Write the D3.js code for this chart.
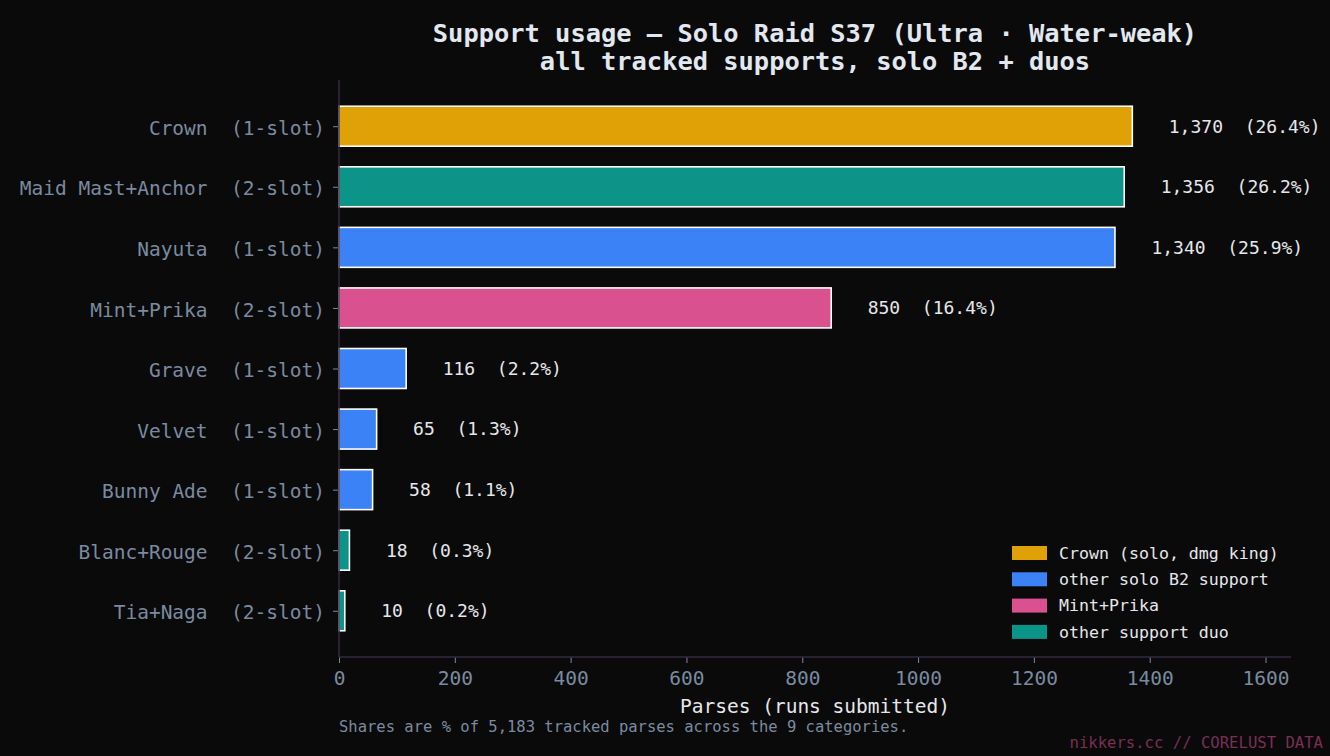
<!DOCTYPE html>
<html><head><meta charset="utf-8">
<script src="https://cdn.jsdelivr.net/npm/d3@7"></script>
<style>
html,body{margin:0;padding:0;background:#0a0a0a;}
text{font-family:"DejaVu Sans Mono",monospace;white-space:pre;}
</style></head>
<body><svg id="c" width="1330" height="756"></svg>
<script>
const names = ["Crown","Maid Mast+Anchor","Nayuta","Mint+Prika","Grave","Velvet","Bunny Ade","Blanc+Rouge","Tia+Naga"];
const slots = ["1-slot","2-slot","1-slot","2-slot","1-slot","1-slot","1-slot","2-slot","2-slot"];
const values = [1370,1356,1340,850,116,65,58,18,10];
const groups = ["crown","duo","solo","mint","solo","solo","solo","duo","duo"];
const groupKeys = ["crown","solo","mint","duo"];
const groupLabels = ["Crown (solo, dmg king)","other solo B2 support","Mint+Prika","other support duo"];
const groupColors = ["#e0a106","#3b82f6","#d9528f","#0d9488"];
const xTicks = [0,200,400,600,800,1000,1200,1400,1600];

const total = d3.sum(values);
const svg = d3.select("#c");
svg.append("rect").attr("width",1330).attr("height",756).attr("fill","#0a0a0a");

const L=339, R=1291, T=80, B=657;
const xMax = d3.max(values)*1.2;
const x = d3.scaleLinear().domain([0,xMax]).range([L,R]);
const bh = 0.66;
const pad = (names.length-1+bh)*0.05;
const y = d3.scaleLinear().domain([-bh/2-pad, names.length-1+bh/2+pad]).range([T,B]);
const color = d3.scaleOrdinal().domain(groupKeys).range(groupColors);

// title
svg.append("text").attr("x",(L+R)/2).attr("y",42).attr("text-anchor","middle")
  .attr("font-size",25.4).attr("font-weight","bold").attr("fill","#e2e8f0")
  .text("Support usage \u2014 Solo Raid S37 (Ultra \u00b7 Water-weak)");
svg.append("text").attr("x",(L+R)/2).attr("y",70).attr("text-anchor","middle")
  .attr("font-size",25.4).attr("font-weight","bold").attr("fill","#e2e8f0")
  .text("all tracked supports, solo B2 + duos");

// bars
const data = names.map((n,i)=>({n,i,v:values[i],g:groups[i],s:slots[i]}));
svg.append("g").selectAll("rect").data(data).join("rect")
  .attr("x",x(0)).attr("y",d=>y(d.i-bh/2))
  .attr("width",d=>x(d.v)-x(0)).attr("height",d=>y(d.i+bh/2)-y(d.i-bh/2))
  .attr("fill",d=>color(d.g)).attr("stroke","#ffffff").attr("stroke-width",1.6);

// value labels
const fmt = d3.format(",");
svg.append("g").selectAll("text").data(data).join("text")
  .attr("x",d=>x(d.v+xMax*0.0383)).attr("y",d=>y(d.i)).attr("dy","0.35em")
  .attr("font-size",18).attr("fill","#e5e7eb")
  .text(d=>`${fmt(d.v)}  (${(d.v/total*100).toFixed(1)}%)`);

// axes
const axisColor="#35283f";
const xAxis = svg.append("g").attr("transform",`translate(0,${B})`)
  .call(d3.axisBottom(x).tickValues(xTicks).tickSize(6).tickPadding(8).tickFormat(d3.format("d")));
xAxis.select(".domain").remove();
xAxis.selectAll("line").attr("stroke","#7b8aa0");
xAxis.selectAll("text").attr("font-size",19.5).attr("fill","#7b8aa0").attr("font-family","DejaVu Sans Mono");

const yAxis = svg.append("g").attr("transform",`translate(${L},0)`)
  .call(d3.axisLeft(y).tickValues(d3.range(names.length)).tickSize(6).tickPadding(8)
    .tickFormat(i=>`${names[i]}  (${slots[i]})`));
yAxis.select(".domain").remove();
yAxis.selectAll("line").attr("stroke","#7b8aa0");
yAxis.selectAll("text").attr("font-size",19.5).attr("fill","#7b8aa0").attr("font-family","DejaVu Sans Mono").attr("dy","0.42em");

svg.append("line").attr("x1",L).attr("x2",L).attr("y1",T).attr("y2",B).attr("stroke",axisColor).attr("stroke-width",1.5);
svg.append("line").attr("x1",L).attr("x2",R).attr("y1",B).attr("y2",B).attr("stroke",axisColor).attr("stroke-width",1.5);

// x label
svg.append("text").attr("x",(L+R)/2).attr("y",713).attr("text-anchor","middle")
  .attr("font-size",19.5).attr("fill","#e5e7eb").text("Parses (runs submitted)");

// footer
svg.append("text").attr("x",L).attr("y",732).attr("font-size",15.5).attr("fill","#7b8aa0")
  .text(`Shares are % of ${fmt(total)} tracked parses across the ${names.length} categories.`);
svg.append("text").attr("x",1323).attr("y",748).attr("text-anchor","end").attr("font-size",15.6).attr("fill","#7a2f55")
  .text("nikkers.cc // CORELUST DATA");

// legend
const lg = svg.append("g").attr("transform","translate(1012,553)");
groupKeys.forEach((k,i)=>{
  const row = lg.append("g").attr("transform",`translate(0,${i*26.3})`);
  row.append("rect").attr("x",0).attr("y",-7).attr("width",35).attr("height",14).attr("fill",groupColors[i]);
  row.append("text").attr("x",47).attr("y",0).attr("dy","0.35em").attr("font-size",16.6).attr("fill","#e5e7eb").text(groupLabels[i]);
});
</script></body></html>
